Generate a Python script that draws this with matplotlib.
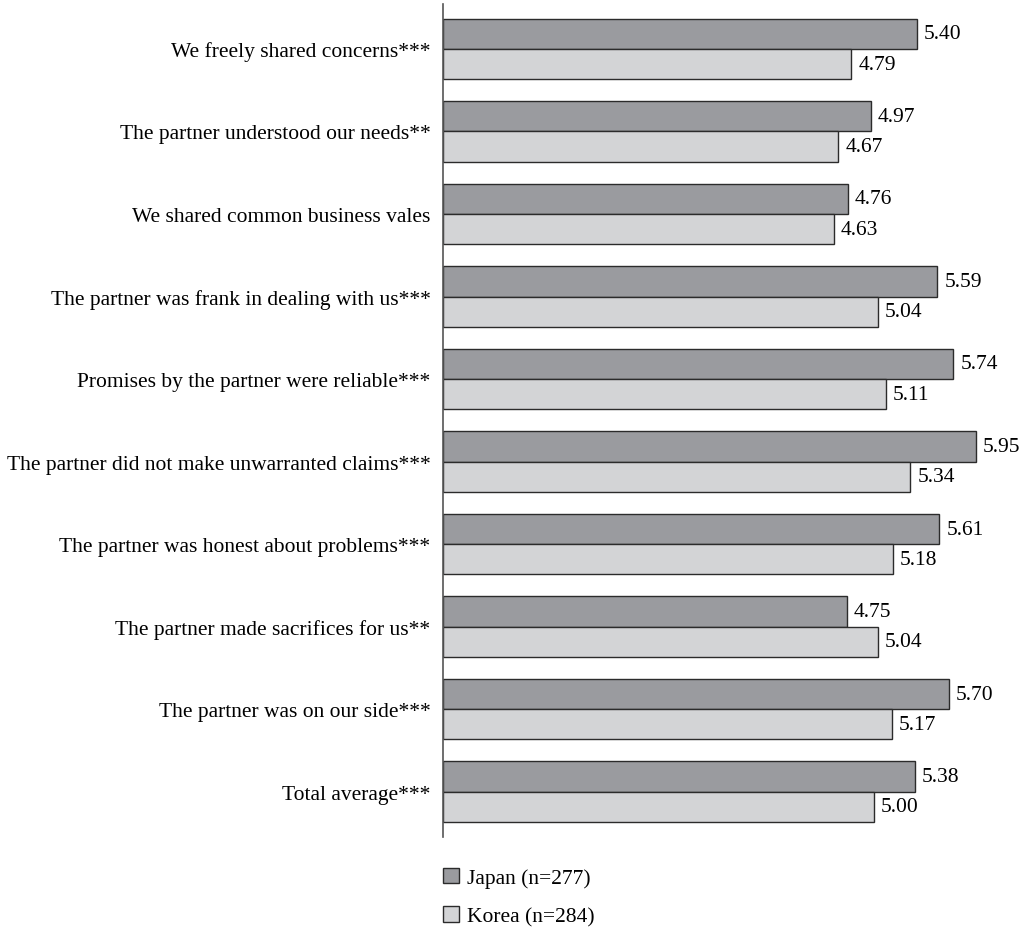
import matplotlib.pyplot as plt
import numpy as np

items = [
    "We freely shared concerns***",
    "The partner understood our needs**",
    "We shared common business vales",
    "The partner was frank in dealing with us***",
    "Promises by the partner were reliable***",
    "The partner did not make unwarranted claims***",
    "The partner was honest about problems***",
    "The partner made sacrifices for us**",
    "The partner was on our side***",
    "Total average***",
]
japan = [5.40, 4.97, 4.76, 5.59, 5.74, 5.95, 5.61, 4.75, 5.70, 5.38]
korea = [4.79, 4.67, 4.63, 5.04, 5.11, 5.34, 5.18, 5.04, 5.17, 5.00]
series_names = ["Japan (n=277)", "Korea (n=284)"]

plt.rcParams['font.family'] = ['Liberation Serif', 'DejaVu Serif']
fs = 15.5

fig = plt.figure(figsize=(10.28, 9.29), dpi=100)
ax = fig.add_axes([443/1028, 1 - 838/929, 1 - 443/1028, (838 - 5)/929])

y = np.arange(len(items))
h = 0.365
b1 = ax.barh(y - h/2, np.array(japan) - 1, h, left=1, color='#9a9b9f',
             edgecolor='#2b2b2b', linewidth=1.0, label=series_names[0])
b2 = ax.barh(y + h/2, np.array(korea) - 1, h, left=1, color='#d3d4d6',
             edgecolor='#2b2b2b', linewidth=1.0, label=series_names[1])

for bars, vals in [(b1, japan), (b2, korea)]:
    ax.bar_label(bars, labels=[f"{v:.2f}" for v in vals], padding=5, fontsize=fs)

ax.set_xlim(1, 1 + (1028 - 443) / 107.7)
ax.set_ylim(9.55, -0.545)
ax.set_yticks(y)
ax.set_yticklabels(items, fontsize=fs)
ax.tick_params(axis='y', length=0, pad=9)
ax.set_xticks([])
for s in ['top', 'right', 'bottom']:
    ax.spines[s].set_visible(False)
ax.spines['left'].set_color('#555555')
ax.spines['left'].set_linewidth(1.2)

fig.legend(handles=[b1, b2], labels=series_names, loc='upper left',
           bbox_to_anchor=(443/1028, 1 - 869/929), frameon=False,
           borderpad=0, borderaxespad=0,
           fontsize=fs, handlelength=0.72, handleheight=0.72,
           handletextpad=0.4, labelspacing=0.85)

fig.savefig('out.png', dpi=100)
